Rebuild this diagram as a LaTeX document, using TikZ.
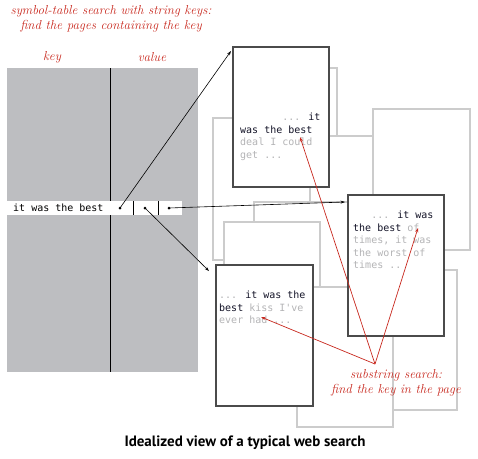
\documentclass[tikz,border=0pt]{standalone}
\usepackage{fontspec}
\usetikzlibrary{arrows.meta}
\newfontfamily\pagemono{DejaVu Sans Mono}
\newfontfamily\capfont{PT Sans}
\definecolor{tablegray}{RGB}{189,190,193}
\definecolor{pageedge}{RGB}{204,204,204}
\definecolor{darkedge}{RGB}{75,75,75}
\definecolor{redlabel}{RGB}{200,40,30}
\definecolor{keyink}{RGB}{20,20,40}
\definecolor{faintink}{RGB}{180,180,182}
\newcommand{\gr}[1]{\textcolor{faintink}{#1}}
\tikzset{
  backpage/.style={draw=pageedge, fill=white, line width=1.1pt},
  frontpage/.style={draw=darkedge, fill=white, line width=1.2pt},
  pagetext/.style={anchor=north west, inner sep=0pt, align=left, text=keyink,
    font=\pagemono\fontsize{10}{12.4}\selectfont},
  redtext/.style={text=redlabel, font=\itshape\fontsize{13}{14.5}\selectfont, align=center, inner sep=0pt},
  ptr/.style={draw=black, line width=0.6pt, -{Stealth[length=4.5pt,width=3pt]}},
  redptr/.style={draw=redlabel, line width=0.7pt, -{Stealth[length=4.5pt,width=3pt]}},
  dotnode/.style={circle, fill=black, inner sep=0pt, minimum size=3pt}
}
\begin{document}
\begin{tikzpicture}[x=1pt,y=-1pt]
\useasboundingbox (0,0) rectangle (478,458);
% titles
\node[redtext] (title) at (111,19) {symbol-table search with string keys:\\find the pages containing the key};
\node[redtext] (keylbl) at (52,57) {key};
\node[redtext] (vallbl) at (152,57) {value};
% table
\fill[tablegray] (7,68) rectangle (198,372);
\draw[line width=1pt] (110,68) -- (110,372);
\fill[white] (7,201) rectangle (182,215);
\draw[line width=0.9pt] (133,201) -- (133,215) (158,201) -- (158,215);
\node[anchor=west, inner sep=0pt, font=\pagemono\fontsize{10}{12}\selectfont] (key) at (13,208) {it was the best};
\node[dotnode] (d1) at (120,208) {};
\node[dotnode] (d2) at (145,208) {};
\node[dotnode] (d3) at (169,208) {};
% background pages
\draw[backpage] (245,68) rectangle (337,170);
\draw[backpage] (310,136) rectangle (400,290);
\draw[backpage] (373,109) rectangle (470,250);
\draw[backpage] (213,118) rectangle (310,260);
\draw[backpage] (254,202) rectangle (360,300);
\draw[backpage] (224,222) rectangle (320,350);
\draw[backpage] (380,270) rectangle (457,410);
\draw[backpage] (297,287) rectangle (393,427);
% front pages
\draw[frontpage] (233,47) rectangle (329,187);
\node[pagetext] (p1) at (240,113) {\hphantom{0000000}\gr{...} it\\was the best\\\gr{deal I could}\\\gr{get ...}};
\draw[frontpage] (348,195) rectangle (444,336);
\node[pagetext] (p2) at (353,211) {\hphantom{000}\gr{...} it was\\the best \gr{of}\\\gr{times, it was}\\\gr{the worst of}\\\gr{times ..}};
\draw[frontpage] (216,265) rectangle (313,406);
\node[pagetext] (p3) at (219,291) {\gr{...} it was the\\best \gr{kiss I've}\\\gr{ever had ...}};
% pointer arrows
\coordinate (t1) at (231,51);
\coordinate (t2) at (209,271);
\coordinate (t3) at (345,202);
\draw[ptr] (d1.center) -- (t1);
\draw[ptr] (d2.center) -- (t2);
\draw[ptr] (d3.center) -- (t3);
% substring search arrows
\coordinate (src) at (375,364);
\coordinate (h1) at (300,137);
\coordinate (h2) at (418,228);
\coordinate (h3) at (261,317);
\draw[redptr] (src) -- (h1);
\draw[redptr] (src) -- (h2);
\draw[redptr] (src) -- (h3);
\node[redtext] (sublbl) at (396,383) {substring search:\\find the key in the page};
% caption
\node[font=\capfont\bfseries\fontsize{15}{17}\selectfont, inner sep=0pt] (cap) at (245,443) {Idealized view of a typical web search};
\end{tikzpicture}
\end{document}
